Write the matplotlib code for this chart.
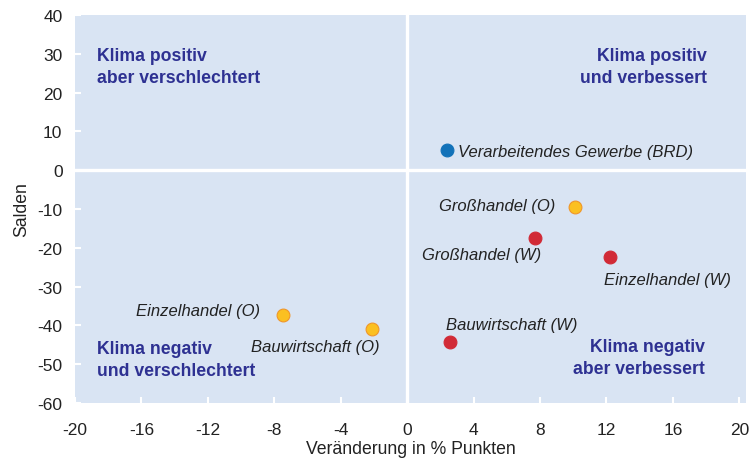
import matplotlib.pyplot as plt

plt.rcParams['font.family'] = ['Liberation Sans', 'DejaVu Sans']
plt.rcParams['axes.unicode_minus'] = False

# Daten
namen = ["Verarbeitendes Gewerbe (BRD)", "Großhandel (O)", "Großhandel (W)",
         "Einzelhandel (W)", "Einzelhandel (O)", "Bauwirtschaft (O)", "Bauwirtschaft (W)"]
veraenderung = [2.4, 10.1, 7.7, 12.2, -7.5, -2.1, 2.6]
salden = [5.2, -9.5, -17.4, -22.4, -37.3, -40.8, -44.2]
gruppe = ["BRD", "O", "W", "W", "O", "O", "W"]

farben = {"BRD": "#1272b9", "O": "#fbc021", "W": "#d12a36"}
kanten = {"BRD": "#1272b9", "O": "#f0962a", "W": "#d12a36"}

# Beschriftungsversatz in Pixeln (dx, dy, ha)
versatz = [(11, -1, "left"), (-20, 2, "right"), (6, -17, "right"), (-6, -22, "left"),
           (-23, 4, "right"), (7, -18, "right"), (-4, 17, "left")]

quadranten = [("Klima positiv\naber verschlechtert", -18.65, 26.7, "left"),
              ("Klima positiv\nund verbessert", 18.05, 26.7, "right"),
              ("Klima negativ\nund verschlechtert", -18.65, -48.7, "left"),
              ("Klima negativ\naber verbessert", 17.92, -48.2, "right")]

fig = plt.figure(figsize=(7.55, 4.64), dpi=100)
ax = fig.add_axes([75 / 755, 1 - 404 / 464, 671 / 755, 388 / 464])
ax.set_facecolor("#d9e4f3")
for s in ax.spines.values():
    s.set_visible(False)

ax.axhline(0, color="white", lw=2.4, zorder=1)
ax.axvline(0, color="white", lw=2.4, zorder=1)

for x, y, g in zip(veraenderung, salden, gruppe):
    ax.scatter(x, y, s=85, color=farben[g], edgecolors=kanten[g], linewidths=0.8, zorder=3)

for name, x, y, (dx, dy, ha) in zip(namen, veraenderung, salden, versatz):
    ax.annotate(name, (x, y), xytext=(dx, dy), textcoords="offset pixels",
                ha=ha, va="center", fontsize=12, style="italic", color="#222222")

for txt, x, y, ha in quadranten:
    ax.text(x, y, txt, ha=ha, va="center", multialignment=ha, fontsize=12.7,
            fontweight="bold", color="#2e3192", linespacing=1.4)

ax.set_xlim(-20, 20.4)
ax.set_ylim(-60, 40)
ax.set_xticks(range(-20, 21, 4))
ax.set_yticks(range(-60, 41, 10))
ax.tick_params(direction="in", color="white", length=4, width=1.5,
               labelsize=12.5, labelcolor="#222222", pad=9)
ax.tick_params(axis="x", pad=14)
ax.set_xlabel("Veränderung in % Punkten", fontsize=12.7, color="#222222", labelpad=1.5)
ax.set_ylabel("Salden", fontsize=12.7, color="#222222", labelpad=5)

fig.savefig("out.png", dpi=100)
